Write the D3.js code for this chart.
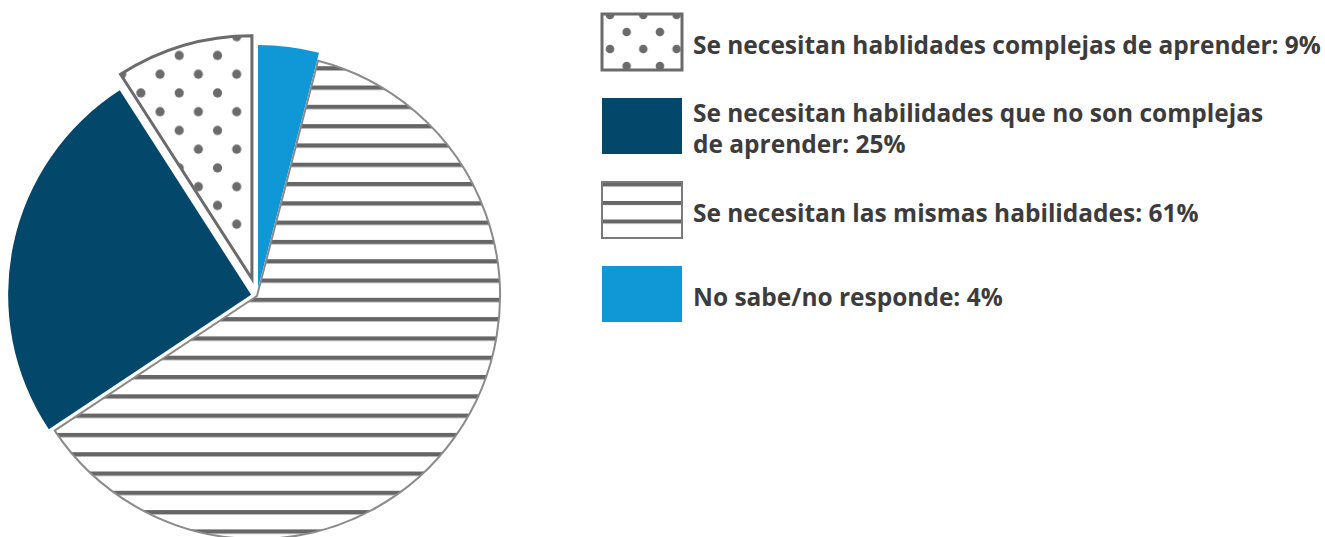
<!DOCTYPE html>
<html>
<head>
<meta charset="utf-8">
<script src="https://cdn.jsdelivr.net/npm/d3@7"></script>
<style>
  html, body { margin: 0; padding: 0; background: #fff; }
  svg { display: block; }
</style>
</head>
<body>
<div id="chart"></div>
<script>
// Datos (orden de la leyenda)
const categories = [
  "Se necesitan hablidades complejas de aprender",
  "Se necesitan habilidades que no son complejas|de aprender",
  "Se necesitan las mismas habilidades",
  "No sabe/no responde",
];
const values = [9, 25, 61, 4];
const fills = ["url(#dots)", "#03476b", "url(#stripes)", "#0f98d5"];
const legendFills = ["url(#dotsLegend)", "#03476b", "url(#stripesLegend)", "#0f98d5"];
const strokes = ["#6b6b6b", "none", "#8a8a8a", "none"];
const legendStrokes = ["#6b6b6b", "none", "#7a7a7a", "none"];
const strokeWidths = [3, 0, 2, 0];
const explode = [18, 6, 0, 8];

// Constantes del grafico
const WIDTH = 1325;
const HEIGHT = 537;
const CX = 257;
const CY = 296;
const RADIUS = 243;
const LEGEND = {X: 602, TOP: 14, STEP: 84, BOX_W: 80, BOX_H: 56, TEXT_X: 693, LINE: 31};

const svg = d3
  .select("#chart")
  .append("svg")
  .attr("width", WIDTH)
  .attr("height", HEIGHT);

// Tarta: empieza arriba y gira en sentido horario (orden inverso a la leyenda)
const data = categories.map((c, i) => ({i, category: c, value: values[i]}));
const pie = d3.pie().sort(null).value((d) => d.value);
const arcs = pie(data.slice().reverse());
const arc = d3.arc().innerRadius(0).outerRadius(RADIUS);

// desplazamiento de cada porcion
arcs.forEach((d) => {
  const mid = (d.startAngle + d.endAngle) / 2;
  const off = explode[d.data.i];
  d.dx = off * Math.sin(mid);
  d.dy = -off * Math.cos(mid);
});
const byIndex = (i) => arcs.find((d) => d.data.i === i);

// Tramas (coordenadas en el espacio local de cada porcion)
const defs = svg.append("defs");

const stripedArc = byIndex(2);
const stripes = defs
  .append("pattern")
  .attr("id", "stripes")
  .attr("patternUnits", "userSpaceOnUse")
  .attr("x", 0)
  .attr("y", 201.3 - CY - stripedArc.dy)
  .attr("width", 40)
  .attr("height", 19.3);
stripes.append("rect").attr("width", 40).attr("height", 19.3).attr("fill", "#fff");
stripes.append("rect").attr("width", 40).attr("height", 4.3).attr("fill", "#666");

const dottedArc = byIndex(0);
const dots = defs
  .append("pattern")
  .attr("id", "dots")
  .attr("patternUnits", "userSpaceOnUse")
  .attr("x", 236.7 - CX - dottedArc.dx)
  .attr("y", 36.7 - CY - dottedArc.dy)
  .attr("width", 38.33)
  .attr("height", 37.5);
dots.append("rect").attr("width", 38.33).attr("height", 37.5).attr("fill", "#fff");
[[0, 0], [38.33, 0], [0, 37.5], [38.33, 37.5], [19.17, 18.75]].forEach(([px, py]) => {
  dots.append("circle").attr("cx", px).attr("cy", py).attr("r", 4.6).attr("fill", "#6b6b6b");
});

const dotsLegend = defs
  .append("pattern")
  .attr("id", "dotsLegend")
  .attr("patternUnits", "userSpaceOnUse")
  .attr("x", 8)
  .attr("y", 1)
  .attr("width", 33.3)
  .attr("height", 34);
dotsLegend.append("rect").attr("width", 33.3).attr("height", 34).attr("fill", "#fff");
[[0, 0], [33.3, 0], [0, 34], [33.3, 34], [16.65, 17]].forEach(([px, py]) => {
  dotsLegend.append("circle").attr("cx", px).attr("cy", py).attr("r", 4.3).attr("fill", "#6b6b6b");
});

const stripesLegend = defs
  .append("pattern")
  .attr("id", "stripesLegend")
  .attr("patternUnits", "userSpaceOnUse")
  .attr("x", 0)
  .attr("y", 19)
  .attr("width", 40)
  .attr("height", 18.5);
stripesLegend.append("rect").attr("width", 40).attr("height", 18.5).attr("fill", "#fff");
stripesLegend.append("rect").attr("width", 40).attr("height", 4).attr("fill", "#666");

const g = svg.append("g").attr("transform", "translate(" + CX + "," + CY + ")");

g.selectAll("path")
  .data(arcs)
  .join("path")
  .attr("transform", (d) => "translate(" + d.dx + "," + d.dy + ")")
  .attr("d", arc)
  .attr("fill", (d) => fills[d.data.i])
  .attr("stroke", (d) => strokes[d.data.i])
  .attr("stroke-width", (d) => strokeWidths[d.data.i])
  .attr("stroke-linejoin", "miter");

// Leyenda (cada grupo se traslada; las tramas usan coordenadas del recuadro)
const legend = svg
  .selectAll("g.legend")
  .data(data)
  .join("g")
  .attr("class", "legend")
  .attr("transform", (d) => "translate(" + LEGEND.X + "," + (LEGEND.TOP + d.i * LEGEND.STEP) + ")");

legend
  .append("rect")
  .attr("x", 0)
  .attr("y", 0)
  .attr("width", LEGEND.BOX_W)
  .attr("height", LEGEND.BOX_H)
  .attr("fill", (d) => legendFills[d.i])
  .attr("stroke", (d) => legendStrokes[d.i])
  .attr("stroke-width", (d) => strokeWidths[d.i]);

const labels = legend
  .append("text")
  .attr("font-family", "'Open Sans', sans-serif")
  .attr("font-weight", 700)
  .attr("font-size", 22)
  .attr("fill", "#3c3c3c");

labels.each(function (d) {
  const lines = (d.category + ": " + d.value + "%").split("|");
  const t = d3.select(this);
  const first = lines.length > 1 ? 24 : 40;
  lines.forEach((line, k) => {
    t.append("tspan")
      .attr("x", LEGEND.TEXT_X - LEGEND.X)
      .attr("y", first + k * LEGEND.LINE)
      .text(line);
  });
});

// Ajustar el tamano para que la primera etiqueta mida lo mismo que en el original
const w = labels.nodes()[0].getComputedTextLength();
labels.attr("font-size", 22 * 628 / w);
</script>
</body>
</html>
